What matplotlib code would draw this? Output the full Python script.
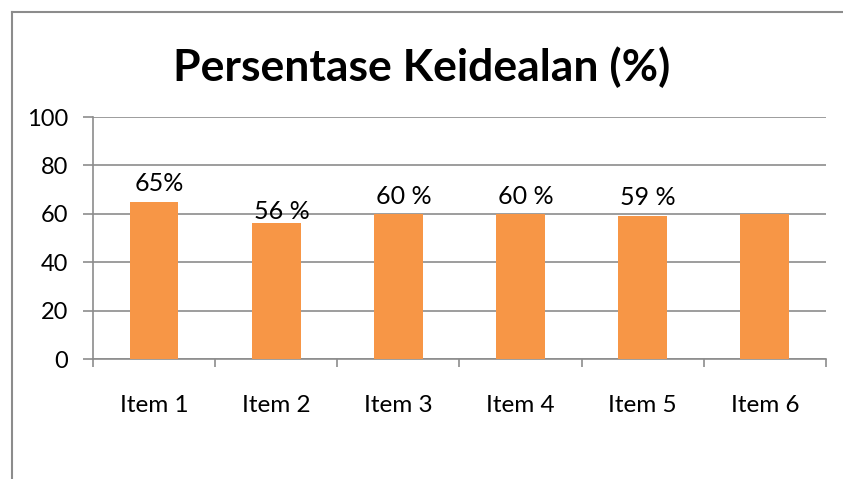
import numpy as np
import matplotlib
matplotlib.use("Agg")
import matplotlib.pyplot as plt
from matplotlib.lines import Line2D

# Data ----------------------------------------------------------------
items = ['Item 1', 'Item 2', 'Item 3', 'Item 4', 'Item 5', 'Item 6']
values = [65, 56, 60, 60, 59, 60]
labels = ['65%', '56 %', '60 %', '60 %', '59 %', '']
yticks = [0, 20, 40, 60, 80, 100]

# label lift above bar top (points) - the labels were nudged by hand in the original
lifts = [8, 3, 7, 7, 8, 0]

plt.rcParams['font.family'] = ['Lato', 'DejaVu Sans']

grey = '#8c8c8c'
orange = '#F79646'

fig = plt.figure(figsize=(8.43, 4.79), dpi=100)
ax = fig.add_axes([0.1103, 0.2505, 0.8695, 0.5052])

x = np.arange(len(items))
bars = ax.bar(x, values, width=0.4, color=orange, zorder=3)

for b, lab, lift in zip(bars, labels, lifts):
    if lab:
        ax.annotate(lab, (b.get_x() + b.get_width() / 2, b.get_height()),
                    xytext=(4, lift), textcoords='offset points',
                    ha='center', va='baseline', fontsize=18, color='black', zorder=4)

ax.set_xlim(-0.5, len(items) - 0.5)
ax.set_ylim(0, 100)
ax.set_yticks(yticks)
ax.yaxis.grid(True, color=grey, linewidth=1.2, zorder=0)

# category boundary ticks on x axis
ax.set_xticks(np.arange(-0.5, len(items)), minor=False)
ax.set_xticklabels([])
ax.set_xticks(x, minor=True)
ax.set_xticklabels(items, minor=True)
ax.tick_params(axis='x', which='major', direction='out', length=6, color=grey, width=1.2)
ax.tick_params(axis='x', which='minor', length=0, pad=26, labelsize=17.5)
ax.tick_params(axis='y', direction='out', length=7, color=grey, width=1.2, pad=11, labelsize=17)

for s in ['top', 'right']:
    ax.spines[s].set_visible(False)
for s in ['left', 'bottom']:
    ax.spines[s].set_color(grey)
    ax.spines[s].set_linewidth(1.2)

fig.text(0.5, 1 - 67 / 479, 'Persentase Keidealan (%)', ha='center', va='center',
         fontsize=32, fontweight='bold')

# chart frame (partly cut off in the original)
fig.add_artist(Line2D([12 / 843, 12 / 843], [0, 1 - 12 / 479], transform=fig.transFigure, color=grey, linewidth=1.5))
fig.add_artist(Line2D([12 / 843, 1], [1 - 12 / 479, 1 - 12 / 479], transform=fig.transFigure, color=grey, linewidth=1.5))

fig.savefig('out.png', dpi=100)
